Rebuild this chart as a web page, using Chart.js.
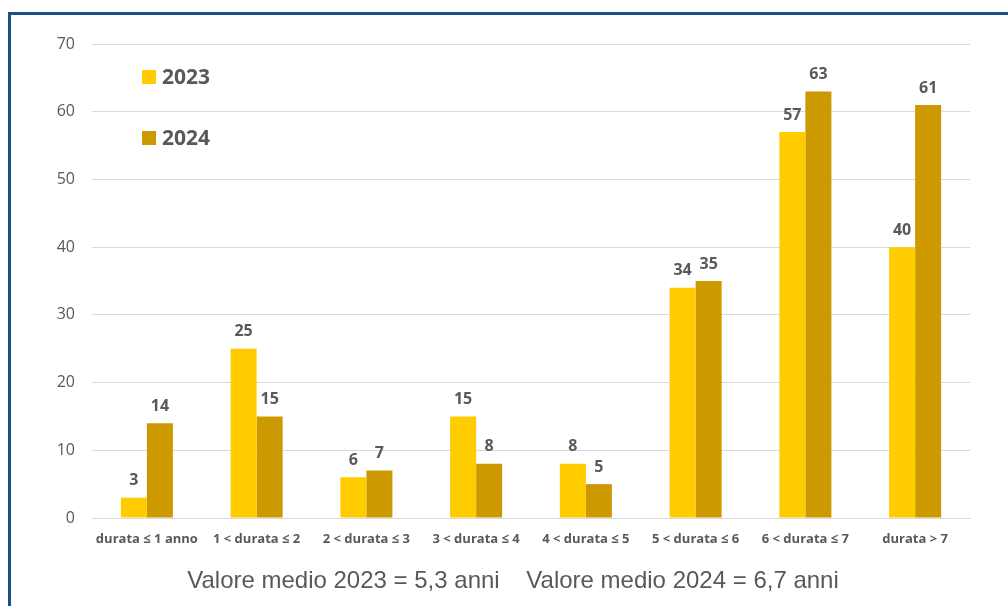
<!DOCTYPE html>
<html>
<head>
<meta charset="utf-8">
<script src="https://cdn.jsdelivr.net/npm/chart.js@4/dist/chart.umd.min.js"></script>
<style>
  html, body { margin: 0; padding: 0; background: #fff; overflow: hidden; }
  #wrap { position: relative; width: 1008px; height: 606px; }
  #frame { position: absolute; left: 8px; top: 12px; width: 1100px; height: 700px;
           border-left: 3px solid #1B4F85; border-top: 3px solid #1B4F85; box-sizing: border-box; }
  canvas { position: absolute; left: 0; top: 0; }
</style>
</head>
<body>
<div id="wrap">
  <div id="frame"></div>
  <canvas id="myBarChart" width="1008" height="606"></canvas>
</div>
<script>
// categorie e valori
const categories = ['durata ≤ 1 anno', '1 < durata ≤ 2', '2 < durata ≤ 3', '3 < durata ≤ 4',
                    '4 < durata ≤ 5', '5 < durata ≤ 6', '6 < durata ≤ 7', 'durata > 7'];
const values2023 = [3, 25, 6, 15, 8, 34, 57, 40];
const values2024 = [14, 15, 7, 8, 5, 35, 63, 61];
const seriesLabels = ['2023', '2024'];
const seriesColors = ['#FFCC00', '#CC9900'];
const footerText = 'Valore medio 2023 = 5,3 anni    Valore medio 2024 = 6,7 anni';

const grey = '#595959';

// etichette sopra le barre
const valueLabels = {
    id: 'valueLabels',
    afterDatasetsDraw(chart) {
        const ctx = chart.ctx;
        ctx.save();
        ctx.font = 'bold 16px "Open Sans", sans-serif';
        ctx.fillStyle = grey;
        ctx.textAlign = 'center';
        ctx.textBaseline = 'middle';
        chart.data.datasets.forEach((ds, i) => {
            chart.getDatasetMeta(i).data.forEach((bar, j) => {
                ctx.fillText(String(ds.data[j]), bar.x, bar.y - 17);
            });
        });
        ctx.restore();
    }
};

// legenda dentro l'area del grafico + testo in basso
const extras = {
    id: 'extras',
    afterDraw(chart) {
        const ctx = chart.ctx;
        ctx.save();
        const legendY = [77, 138];
        seriesLabels.forEach((lab, i) => {
            ctx.fillStyle = seriesColors[i];
            ctx.fillRect(142, legendY[i] - 7, 14, 14);
            ctx.fillStyle = grey;
            ctx.font = 'bold 21px "Open Sans", sans-serif';
            ctx.textBaseline = 'middle';
            ctx.textAlign = 'left';
            ctx.fillText(lab, 162, legendY[i] + 1);
        });
        ctx.font = '24px "Liberation Sans", Arial, sans-serif';
        ctx.fillStyle = grey;
        ctx.textAlign = 'center';
        ctx.textBaseline = 'middle';
        ctx.fillText(footerText, 513, 581);
        ctx.restore();
    }
};

const ctx = document.getElementById('myBarChart').getContext('2d');
new Chart(ctx, {
    type: 'bar',
    data: {
        labels: categories,
        datasets: [
            { label: seriesLabels[0], data: values2023, backgroundColor: seriesColors[0] },
            { label: seriesLabels[1], data: values2024, backgroundColor: seriesColors[1] }
        ]
    },
    options: {
        responsive: false,
        animation: false,
        layout: { padding: { left: 30, right: 38, top: 44, bottom: 0 } },
        datasets: { bar: { categoryPercentage: 0.474, barPercentage: 1 } },
        scales: {
            x: {
                grid: { display: false },
                border: { color: '#D9D9D9', width: 1 },
                ticks: {
                    color: grey,
                    font: { family: '"Open Sans", sans-serif', size: 13, weight: 'bold' },
                    padding: 5,
                    maxRotation: 0, autoSkip: false
                },
                afterFit(scale) { scale.height = 88; }
            },
            y: {
                min: 0, max: 70,
                ticks: {
                    stepSize: 10,
                    color: grey,
                    font: { family: '"Open Sans", sans-serif', size: 16 },
                    padding: 17
                },
                grid: { color: '#D9D9D9', drawTicks: false },
                border: { display: false },
                afterFit(scale) { scale.width = 62; }
            }
        },
        plugins: {
            legend: { display: false },
            tooltip: { enabled: false }
        }
    },
    plugins: [valueLabels, extras]
});
</script>
</body>
</html>
